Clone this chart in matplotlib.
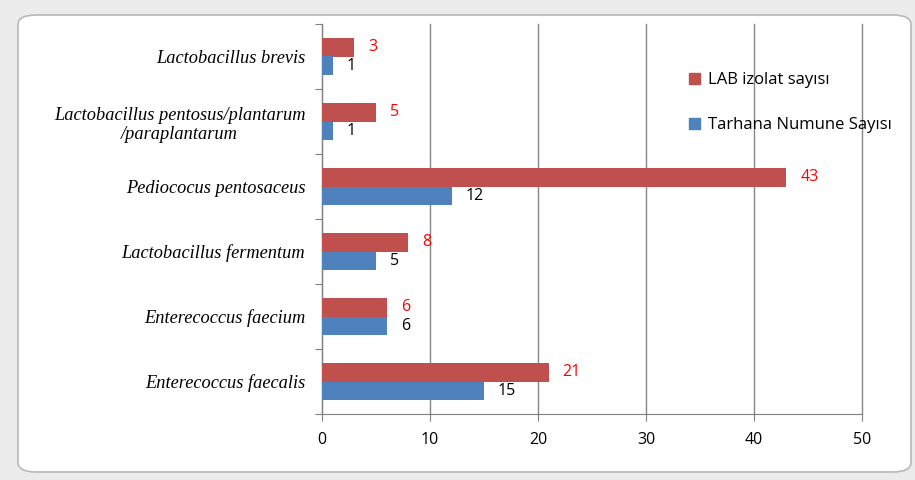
import numpy as np
import matplotlib.pyplot as plt
from matplotlib.patches import FancyBboxPatch, Patch

turler = ['Enterecoccus faecalis', 'Enterecoccus faecium', 'Lactobacillus fermentum',
          'Pediococus pentosaceus', 'Lactobacillus pentosus/plantarum\n/paraplantarum',
          'Lactobacillus brevis']
lab_izolat = [21, 6, 8, 43, 5, 3]
tarhana_numune = [15, 6, 5, 12, 1, 1]

kirmizi = '#c0504d'
mavi = '#4f81bd'

fig = plt.figure(figsize=(9.15, 4.8), dpi=100, facecolor='#ececec')
# beyaz grafik alani
cerceve = FancyBboxPatch((18 / 915, 8 / 480), 893 / 915, 457 / 480,
                         boxstyle='round,pad=0,rounding_size=0.02',
                         transform=fig.transFigure, facecolor='white',
                         edgecolor='#b8b8b8', linewidth=1.2, zorder=-1)
fig.patches.append(cerceve)

ax = fig.add_axes([322 / 915, 66 / 480, 540 / 915, 390 / 480])
ax.set_facecolor('none')

poz = np.arange(len(turler))
h = 0.28
ax.barh(poz + h / 2, lab_izolat, height=h, color=kirmizi, zorder=3)
ax.barh(poz - h / 2, tarhana_numune, height=h, color=mavi, zorder=3)

for p, v in zip(poz, lab_izolat):
    ax.annotate(str(v), (v, p + h / 2), xytext=(10, 0), textcoords='offset points',
                va='center', ha='left', color='#ff0000', fontsize=11.5, family='Open Sans')
for p, v in zip(poz, tarhana_numune):
    ax.annotate(str(v), (v, p - h / 2), xytext=(10, 0), textcoords='offset points',
                va='center', ha='left', color='black', fontsize=11.5, family='Open Sans')

ax.set_xlim(0, 50)
ax.set_ylim(-0.5, len(turler) - 0.5)
ax.set_xticks(np.arange(0, 51, 10))
ax.tick_params(axis='x', labelsize=11.5, colors='#808080', labelcolor='black', length=5, pad=8)
for t in ax.get_xticklabels():
    t.set_family('Open Sans')

ax.set_yticks(np.arange(-0.5, len(turler), 1))
ax.set_yticklabels([])
ax.set_yticks(poz, minor=True)
ax.set_yticklabels(turler, minor=True, family='Liberation Serif', style='italic',
                   fontsize=13.2, multialignment='center')
ax.tick_params(axis='y', which='major', length=5, colors='#808080')
ax.tick_params(axis='y', which='minor', length=0, pad=12)

ax.grid(axis='x', color='#868686', linewidth=1, zorder=0)
for gl in ax.get_xgridlines():
    gl.set_clip_on(False)
ax.spines['top'].set_visible(False)
ax.spines['right'].set_visible(False)
ax.spines['left'].set_color('#808080')
ax.spines['bottom'].set_color('#808080')

ax.legend(handles=[Patch(color=kirmizi), Patch(color=mavi)],
          labels=['LAB izolat sayısı', 'Tarhana Numune Sayısı'],
          loc='upper left', bbox_to_anchor=(0.652, 0.915), frameon=False,
          handlelength=0.65, handleheight=0.65, handletextpad=0.5, labelspacing=1.75,
          prop={'family': 'Open Sans', 'size': 12})

fig.savefig('out.png', dpi=100, facecolor=fig.get_facecolor())
